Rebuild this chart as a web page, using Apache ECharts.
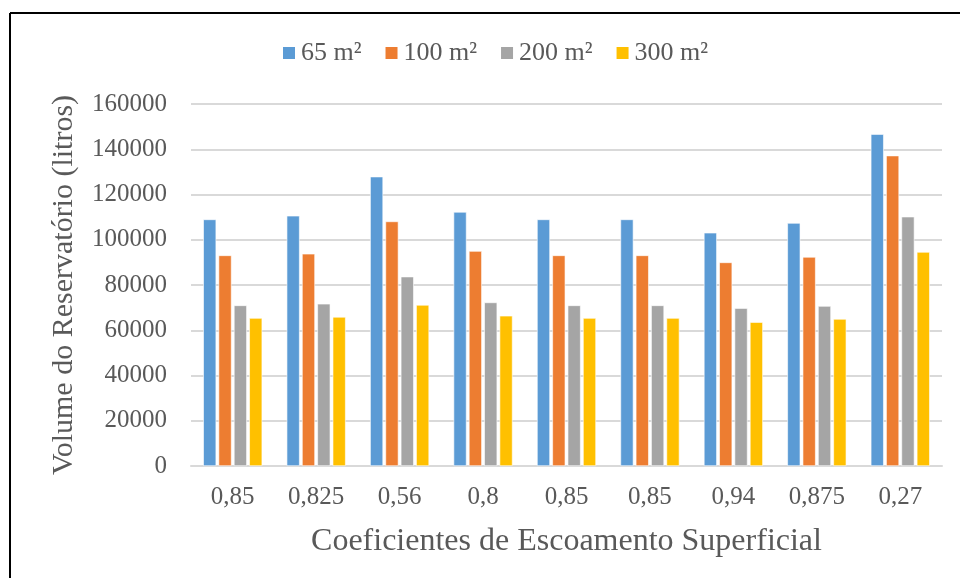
<!DOCTYPE html>
<html>
<head>
<meta charset="utf-8">
<script src="https://cdn.jsdelivr.net/npm/echarts@6/dist/echarts.min.js"></script>
<style>
  html, body { margin: 0; padding: 0; background: #fff; }
  #chart { width: 960px; height: 578px; }
</style>
</head>
<body>
<div id="chart"></div>
<script>
var categories = ['0,85', '0,825', '0,56', '0,8', '0,85', '0,85', '0,94', '0,875', '0,27'];
var seriesNames = ['65 m²', '100 m²', '200 m²', '300 m²'];
var v65  = [109000, 110600, 127900, 112300, 109000, 109000, 103100, 107400, 146700];
var v100 = [93100, 93800, 108100, 95000, 93100, 93100, 90000, 92400, 137200];
var v200 = [71000, 71700, 83700, 72300, 71000, 71000, 69800, 70700, 110200];
var v300 = [65400, 65900, 71200, 66400, 65400, 65400, 63600, 65000, 94600];
var colors = ['#5b9bd5', '#ed7d31', '#a5a5a5', '#ffc000'];

var font = 'Liberation Serif';
var textColor = '#595959';

var chart = echarts.init(document.getElementById('chart'));

var allValues = [v65, v100, v200, v300];
var series = [];
for (var i = 0; i < seriesNames.length; i++) {
    series.push({
        name: seriesNames[i],
        type: 'bar',
        barWidth: 13,
        barGap: '18%',
        itemStyle: { color: colors[i], borderColor: '#fff', borderWidth: 0.6 },
        data: allValues[i]
    });
}

var option = {
    animation: false,
    backgroundColor: '#fff',
    color: colors,
    textStyle: { fontFamily: font },
    graphic: [
        { type: 'line', shape: { x1: 10, y1: 13, x2: 960, y2: 13 }, style: { stroke: '#000', lineWidth: 2 } },
        { type: 'line', shape: { x1: 10, y1: 13, x2: 10, y2: 578 }, style: { stroke: '#000', lineWidth: 2 } }
    ],
    legend: {
        top: 35,
        left: 276,
        itemWidth: 14,
        itemHeight: 14,
        itemGap: 22,
        icon: 'rect',
        textStyle: { fontFamily: font, fontSize: 26, color: textColor },
        data: seriesNames
    },
    grid: {
        left: 191,
        right: 18,
        top: 104,
        bottom: 112
    },
    xAxis: {
        type: 'category',
        data: categories,
        axisLine: { lineStyle: { color: '#d9d9d9', width: 2 } },
        axisTick: { show: false },
        axisLabel: { fontFamily: font, fontSize: 25, color: textColor, margin: 19 },
        name: 'Coeficientes de Escoamento Superficial',
        nameLocation: 'middle',
        nameGap: 60,
        nameTextStyle: { fontFamily: font, fontSize: 32, color: textColor }
    },
    yAxis: {
        type: 'value',
        min: 0,
        max: 160000,
        interval: 20000,
        axisLine: { show: false },
        axisTick: { show: false },
        splitLine: { lineStyle: { color: '#d9d9d9', width: 2 } },
        axisLabel: {
            fontFamily: font, fontSize: 25, color: textColor, margin: 24,
            formatter: function (v) { return String(v); }
        },
        name: 'Volume do Reservatório (litros)',
        nameLocation: 'middle',
        nameGap: 112,
        nameTextStyle: { fontFamily: font, fontSize: 30, color: textColor }
    },
    series: series
};

chart.setOption(option);
</script>
</body>
</html>
